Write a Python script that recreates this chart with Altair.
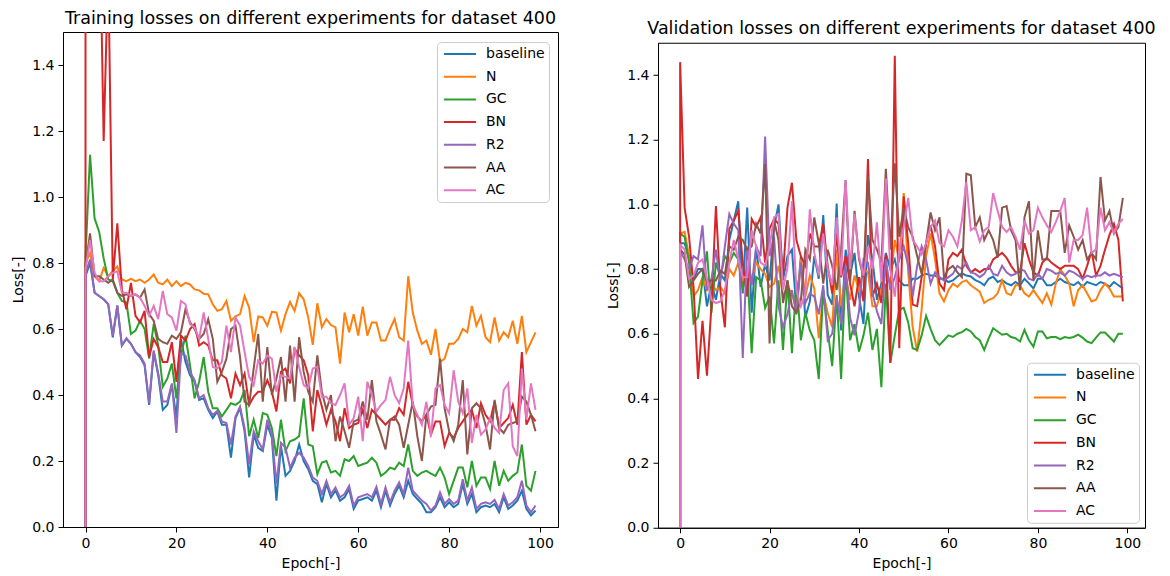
import altair as alt
import pandas as pd

SERIES = ["baseline", "N", "GC", "BN", "R2", "AA", "AC"]
COLORS = ["#1f77b4", "#ff7f0e", "#2ca02c", "#d62728", "#9467bd", "#8c564b", "#e377c2"]
EPOCHS = list(range(100))
START_LOSS = 0.0
X_TICKS = [0, 20, 40, 60, 80, 100]
Y_TICKS = [0.0, 0.2, 0.4, 0.6, 0.8, 1.0, 1.2, 1.4]

TRAIN_BASELINE = [
    0.76, 0.80, 0.71, 0.70, 0.69, 0.675, 0.575, 0.67, 0.55, 0.57,
    0.555, 0.53, 0.515, 0.49, 0.37, 0.53, 0.46, 0.355, 0.37, 0.43,
    0.33, 0.57, 0.50, 0.46, 0.44, 0.385, 0.39, 0.355, 0.33, 0.35,
    0.31, 0.31, 0.21, 0.33, 0.36, 0.29, 0.15, 0.28, 0.24, 0.23,
    0.31, 0.27, 0.08, 0.245, 0.155, 0.17, 0.20, 0.25, 0.20, 0.175,
    0.14, 0.13, 0.075, 0.13, 0.09, 0.11, 0.08, 0.09, 0.115, 0.055,
    0.08, 0.085, 0.09, 0.08, 0.11, 0.06, 0.11, 0.065, 0.10, 0.125,
    0.09, 0.14, 0.10, 0.085, 0.07, 0.045, 0.045, 0.06, 0.09, 0.06,
    0.075, 0.06, 0.07, 0.13, 0.07, 0.10, 0.045, 0.06, 0.065, 0.06,
    0.07, 0.045, 0.09, 0.055, 0.065, 0.08, 0.11, 0.055, 0.035, 0.05,
]
TRAIN_N = [
    0.80, 0.83, 0.76, 0.745, 0.785, 0.76, 0.775, 0.79, 0.75, 0.745,
    0.752, 0.745, 0.75, 0.74, 0.75, 0.765, 0.74, 0.735, 0.75, 0.73,
    0.745, 0.73, 0.74, 0.735, 0.72, 0.717, 0.707, 0.705, 0.675, 0.655,
    0.66, 0.685, 0.625, 0.638, 0.645, 0.70, 0.665, 0.56, 0.638, 0.635,
    0.61, 0.652, 0.65, 0.595, 0.645, 0.682, 0.655, 0.708, 0.69, 0.635,
    0.552, 0.678, 0.605, 0.63, 0.612, 0.605, 0.495, 0.65, 0.59, 0.645,
    0.58, 0.668, 0.58, 0.62, 0.62, 0.565, 0.565, 0.60, 0.63, 0.575,
    0.565, 0.76, 0.65, 0.595, 0.555, 0.565, 0.522, 0.60, 0.50, 0.51,
    0.555, 0.555, 0.57, 0.60, 0.59, 0.67, 0.61, 0.64, 0.575, 0.56,
    0.635, 0.565, 0.59, 0.575, 0.625, 0.555, 0.64, 0.53, 0.56, 0.59,
]
TRAIN_GC = [
    0.82, 1.128, 0.935, 0.895, 0.814, 0.75, 0.745, 0.71, 0.685, 0.68,
    0.585, 0.595, 0.625, 0.60, 0.51, 0.615, 0.55, 0.425, 0.45, 0.495,
    0.39, 0.52, 0.58, 0.49, 0.39, 0.44, 0.515, 0.41, 0.36, 0.36,
    0.335, 0.355, 0.375, 0.37, 0.38, 0.415, 0.275, 0.325, 0.27, 0.345,
    0.34, 0.30, 0.215, 0.325, 0.23, 0.26, 0.265, 0.275, 0.39, 0.25,
    0.245, 0.16, 0.195, 0.20, 0.165, 0.17, 0.155, 0.205, 0.20, 0.215,
    0.185, 0.19, 0.195, 0.21, 0.195, 0.155, 0.165, 0.18, 0.175, 0.195,
    0.185, 0.25, 0.17, 0.155, 0.165, 0.17, 0.162, 0.155, 0.18, 0.15,
    0.10, 0.14, 0.18, 0.18, 0.12, 0.20, 0.125, 0.15, 0.15, 0.115,
    0.20, 0.125, 0.17, 0.14, 0.155, 0.165, 0.25, 0.125, 0.11, 0.17,
]
TRAIN_BN = [
    4.0, 2.6, 2.2, 1.94, 1.17, 1.7, 0.75, 0.92, 0.72, 0.66,
    0.74, 0.64, 0.62, 0.655, 0.515, 0.57, 0.545, 0.50, 0.50, 0.56,
    0.44, 0.58, 0.565, 0.60, 0.615, 0.55, 0.56, 0.55, 0.505, 0.505,
    0.46, 0.45, 0.39, 0.465, 0.43, 0.465, 0.37, 0.395, 0.41, 0.41,
    0.445, 0.41, 0.35, 0.47, 0.48, 0.435, 0.54, 0.52, 0.505, 0.46,
    0.29, 0.415, 0.365, 0.31, 0.355, 0.32, 0.26, 0.36, 0.30, 0.31,
    0.315, 0.355, 0.30, 0.355, 0.34, 0.325, 0.31, 0.325, 0.325, 0.36,
    0.34, 0.44, 0.37, 0.335, 0.32, 0.34, 0.28, 0.32, 0.32, 0.245,
    0.285, 0.27, 0.30, 0.32, 0.34, 0.355, 0.30, 0.375, 0.34, 0.32,
    0.38, 0.30, 0.315, 0.33, 0.37, 0.31, 0.53, 0.31, 0.34, 0.32,
]
TRAIN_R2 = [
    0.77, 0.81, 0.71, 0.70, 0.69, 0.675, 0.58, 0.672, 0.55, 0.572,
    0.555, 0.53, 0.52, 0.495, 0.375, 0.535, 0.465, 0.38, 0.38, 0.435,
    0.285, 0.525, 0.52, 0.47, 0.445, 0.39, 0.40, 0.36, 0.34, 0.352,
    0.32, 0.315, 0.25, 0.335, 0.365, 0.30, 0.19, 0.29, 0.26, 0.235,
    0.325, 0.28, 0.13, 0.255, 0.24, 0.18, 0.21, 0.225, 0.21, 0.185,
    0.15, 0.14, 0.10, 0.14, 0.10, 0.12, 0.09, 0.10, 0.125, 0.065,
    0.09, 0.095, 0.10, 0.09, 0.122, 0.07, 0.12, 0.075, 0.11, 0.135,
    0.10, 0.18, 0.11, 0.095, 0.08, 0.07, 0.05, 0.065, 0.105, 0.07,
    0.085, 0.07, 0.08, 0.145, 0.08, 0.12, 0.055, 0.07, 0.075, 0.07,
    0.082, 0.055, 0.10, 0.065, 0.075, 0.09, 0.14, 0.065, 0.045, 0.065,
]
TRAIN_AA = [
    0.79, 0.89, 0.76, 0.76, 0.75, 0.74, 0.75, 0.71, 0.70, 0.705,
    0.70, 0.705, 0.695, 0.72, 0.645, 0.625, 0.57, 0.56, 0.555, 0.58,
    0.57, 0.59, 0.66, 0.62, 0.60, 0.57, 0.585, 0.63, 0.57, 0.44,
    0.47, 0.51, 0.60, 0.61, 0.515, 0.38, 0.37, 0.48, 0.585, 0.38,
    0.545, 0.40, 0.45, 0.515, 0.38, 0.55, 0.38, 0.575, 0.47, 0.41,
    0.38, 0.52, 0.41, 0.355, 0.40, 0.26, 0.335, 0.29, 0.24, 0.32,
    0.325, 0.38, 0.325, 0.445, 0.32, 0.28, 0.235, 0.325, 0.335, 0.31,
    0.24, 0.31, 0.38, 0.275, 0.20, 0.34, 0.365, 0.37, 0.51, 0.36,
    0.29, 0.26, 0.31, 0.445, 0.22, 0.36, 0.375, 0.36, 0.31, 0.235,
    0.385, 0.30, 0.285, 0.31, 0.315, 0.32, 0.395, 0.38, 0.34, 0.29,
]
TRAIN_AC = [
    0.78, 0.87, 0.77, 0.745, 0.745, 0.76, 0.77, 0.775, 0.71, 0.71,
    0.70, 0.705, 0.695, 0.67, 0.64, 0.67, 0.63, 0.715, 0.645, 0.635,
    0.595, 0.685, 0.675, 0.615, 0.605, 0.57, 0.65, 0.57, 0.485, 0.48,
    0.50, 0.61, 0.53, 0.635, 0.61, 0.53, 0.455, 0.43, 0.505, 0.495,
    0.52, 0.51, 0.41, 0.46, 0.455, 0.45, 0.545, 0.485, 0.43, 0.42,
    0.48, 0.485, 0.395, 0.395, 0.375, 0.37, 0.40, 0.435, 0.31, 0.33,
    0.395, 0.26, 0.44, 0.40, 0.35, 0.37, 0.385, 0.455, 0.40, 0.375,
    0.42, 0.565, 0.37, 0.34, 0.31, 0.38, 0.275, 0.42, 0.43, 0.37,
    0.345, 0.475, 0.38, 0.345, 0.42, 0.255, 0.34, 0.28, 0.295, 0.33,
    0.30, 0.285, 0.415, 0.435, 0.245, 0.215, 0.48, 0.325, 0.435, 0.355,
]

VAL_BASELINE = [
    0.88, 0.88, 0.83, 0.77, 0.80, 0.80, 0.685, 0.755, 0.705, 0.785,
    0.765, 0.89, 0.95, 1.01, 0.725, 0.99, 0.665, 0.87, 0.745, 0.815,
    0.765, 0.93, 1.00, 0.765, 0.84, 0.86, 0.675, 0.84, 0.65, 0.70,
    0.84, 0.77, 0.967, 0.72, 0.69, 1.003, 0.61, 0.86, 0.78, 0.85,
    0.715, 0.63, 0.905, 0.83, 0.705, 0.755, 0.85, 0.80, 0.83, 0.765,
    0.75, 0.75, 0.77, 0.77, 0.78, 0.785, 0.78, 0.78, 0.77, 0.77,
    0.76, 0.765, 0.777, 0.787, 0.78, 0.777, 0.766, 0.76, 0.75, 0.77,
    0.777, 0.76, 0.766, 0.756, 0.75, 0.76, 0.75, 0.77, 0.756, 0.74,
    0.77, 0.77, 0.75, 0.75, 0.76, 0.77, 0.76, 0.755, 0.75, 0.76,
    0.745, 0.76, 0.755, 0.75, 0.76, 0.755, 0.745, 0.76, 0.75, 0.74,
]
VAL_N = [
    0.91, 0.915, 0.84, 0.715, 0.735, 0.775, 0.735, 0.755, 0.735, 0.745,
    0.725, 0.80, 0.78, 0.82, 0.765, 0.785, 0.765, 0.82, 0.80, 0.785,
    0.745, 0.755, 0.81, 0.715, 0.745, 0.725, 0.675, 0.83, 0.715, 0.78,
    0.74, 0.586, 0.725, 0.665, 0.62, 0.86, 0.685, 0.78, 0.705, 0.78,
    0.735, 0.80, 0.79, 0.685, 0.685, 0.735, 0.80, 0.755, 0.89, 0.83,
    1.035, 0.79, 0.62, 0.545, 0.675, 0.84, 0.91, 0.83, 0.725, 0.70,
    0.735, 0.755, 0.745, 0.76, 0.765, 0.75, 0.74, 0.73, 0.695, 0.705,
    0.71, 0.725, 0.765, 0.725, 0.72, 0.75, 0.75, 0.725, 0.715, 0.735,
    0.715, 0.695, 0.725, 0.69, 0.755, 0.80, 0.78, 0.755, 0.685, 0.735,
    0.75, 0.725, 0.70, 0.705, 0.735, 0.755, 0.74, 0.715, 0.715, 0.715,
]
VAL_GC = [
    0.91, 0.90, 0.82, 0.633, 0.653, 0.765, 0.855, 0.665, 0.82, 0.775,
    0.84, 0.82, 0.85, 0.83, 0.735, 0.805, 0.54, 0.775, 0.765, 0.68,
    0.715, 0.57, 0.765, 0.55, 0.765, 0.54, 0.765, 0.58, 0.665, 0.61,
    0.58, 0.46, 0.735, 0.61, 0.50, 0.72, 0.46, 0.80, 0.58, 0.63,
    0.545, 0.595, 0.665, 0.55, 0.615, 0.435, 0.755, 0.51, 0.595, 0.675,
    0.68, 0.635, 0.555, 0.55, 0.595, 0.655, 0.615, 0.58, 0.565, 0.58,
    0.595, 0.59, 0.60, 0.605, 0.615, 0.607, 0.59, 0.58, 0.55, 0.586,
    0.617, 0.607, 0.597, 0.60, 0.59, 0.586, 0.576, 0.612, 0.58, 0.56,
    0.607, 0.607, 0.586, 0.59, 0.59, 0.583, 0.59, 0.587, 0.59, 0.597,
    0.588, 0.576, 0.571, 0.588, 0.604, 0.604, 0.59, 0.576, 0.60, 0.60,
]
VAL_BN = [
    1.44, 0.99, 0.90, 0.745, 0.46, 0.64, 0.47, 0.685, 0.995, 0.735,
    0.62, 0.925, 0.95, 0.98, 0.82, 0.715, 0.955, 0.93, 0.96, 0.82,
    0.925, 0.955, 0.94, 0.78, 0.99, 1.067, 0.89, 0.84, 0.81, 0.91,
    0.87, 0.87, 0.94, 0.81, 0.725, 0.91, 0.775, 0.84, 0.755, 0.685,
    0.775, 0.70, 1.14, 0.715, 0.755, 0.695, 0.845, 0.51, 1.46, 0.555,
    1.025, 0.88, 0.69, 0.685, 0.775, 0.88, 0.935, 0.87, 0.755, 0.735,
    0.83, 0.85, 0.84, 0.86, 0.81, 0.79, 0.80, 0.79, 0.80, 0.80,
    0.83, 0.84, 0.85, 0.835, 0.81, 0.79, 0.79, 0.88, 0.83, 0.79,
    0.78, 0.82, 0.835, 0.82, 0.81, 0.80, 0.81, 0.81, 0.81, 0.80,
    0.77, 0.81, 0.855, 0.78, 0.81, 0.86, 0.905, 0.94, 0.89, 0.70,
]
VAL_R2 = [
    0.855, 0.83, 0.80, 0.84, 0.83, 0.935, 0.735, 0.77, 0.86, 0.76,
    0.87, 0.97, 0.94, 0.92, 0.525, 0.87, 0.75, 0.87, 0.84, 1.21,
    0.84, 0.90, 0.685, 0.62, 0.66, 0.735, 0.66, 0.82, 0.695, 0.725,
    0.715, 0.66, 0.75, 0.58, 0.60, 0.715, 0.63, 0.81, 0.65, 0.595,
    0.67, 0.83, 0.82, 0.725, 0.67, 0.63, 0.83, 0.735, 0.775, 0.83,
    0.87, 0.81, 0.715, 0.81, 0.87, 0.83, 0.755, 0.79, 0.775, 0.765,
    0.775, 0.785, 0.81, 0.80, 0.82, 0.79, 0.785, 0.775, 0.785, 0.81,
    0.785, 0.78, 0.81, 0.79, 0.78, 0.785, 0.80, 0.795, 0.77, 0.765,
    0.785, 0.77, 0.80, 0.795, 0.785, 0.79, 0.78, 0.795, 0.79, 0.78,
    0.77, 0.78, 0.775, 0.78, 0.78, 0.79, 0.78, 0.785, 0.78, 0.775,
]
VAL_AA = [
    0.86, 0.845, 0.745, 0.765, 0.785, 0.80, 0.76, 0.765, 0.765, 0.795,
    0.785, 0.87, 0.86, 0.90, 0.89, 0.86, 0.87, 0.94, 0.91, 1.125,
    0.57, 0.95, 0.89, 0.695, 0.765, 0.685, 0.665, 0.705, 0.86, 0.83,
    0.96, 0.88, 0.755, 0.86, 0.81, 0.735, 0.86, 1.075, 0.755, 0.98,
    0.83, 0.775, 1.085, 0.89, 0.86, 0.82, 1.11, 0.86, 1.127, 0.90,
    0.99, 0.93, 0.90, 0.84, 0.785, 0.88, 0.975, 0.92, 0.96, 0.775,
    0.80, 0.81, 0.79, 0.775, 1.095, 1.09, 0.93, 0.96, 0.89, 0.92,
    0.89, 0.835, 0.99, 0.995, 0.92, 0.89, 0.735, 0.96, 1.01, 0.765,
    0.92, 0.83, 0.83, 0.98, 0.98, 0.98, 0.85, 0.935, 0.90, 0.86,
    0.89, 0.83, 0.85, 0.83, 1.085, 0.95, 0.98, 0.91, 0.93, 1.02,
]
VAL_AC = [
    0.875, 0.86, 0.77, 0.78, 0.82, 0.83, 0.77, 0.705, 0.695, 0.70,
    0.735, 0.82, 0.89, 0.83, 0.775, 0.775, 0.92, 0.87, 0.82, 0.81,
    0.87, 0.96, 0.97, 0.735, 0.805, 1.01, 0.735, 0.685, 0.725, 0.985,
    0.85, 0.78, 0.91, 0.80, 0.75, 0.96, 0.78, 1.075, 0.80, 0.97,
    0.84, 0.78, 0.87, 0.80, 0.945, 0.76, 1.08, 0.80, 0.715, 0.86,
    0.93, 1.02, 0.89, 0.87, 0.845, 0.88, 0.93, 0.95, 0.88, 0.87,
    0.92, 0.90, 0.87, 0.95, 1.07, 0.92, 0.93, 0.885, 0.92, 0.93,
    1.035, 0.98, 0.93, 0.915, 0.93, 0.90, 0.86, 0.95, 0.91, 0.92,
    0.99, 0.96, 0.935, 0.915, 0.945, 0.98, 1.02, 0.82, 0.89, 0.89,
    0.905, 0.99, 0.85, 0.86, 0.99, 0.92, 0.945, 0.91, 0.94, 0.955,
]

TRAIN = dict(zip(SERIES, [TRAIN_BASELINE, TRAIN_N, TRAIN_GC, TRAIN_BN, TRAIN_R2, TRAIN_AA, TRAIN_AC]))
VAL = dict(zip(SERIES, [VAL_BASELINE, VAL_N, VAL_GC, VAL_BN, VAL_R2, VAL_AA, VAL_AC]))

FONT = "DejaVu Sans"


def build_frame(series_values):
    rows = []
    for name in SERIES:
        rows.append({"series": name, "epoch": 0, "loss": START_LOSS, "idx": -1})
        for e, v in zip(EPOCHS, series_values[name]):
            rows.append({"series": name, "epoch": e, "loss": v, "idx": e})
    return pd.DataFrame(rows)


def lines_for(series_values, lx, ly):
    df = build_frame(series_values)
    x = alt.X("epoch:Q",
              scale=alt.Scale(domain=[-4.95, 103.95], nice=False, zero=False),
              axis=alt.Axis(values=X_TICKS, format="d", title="Epoch[-]"))
    y = alt.Y("loss:Q",
              scale=alt.Scale(domain=[0, 1.5], nice=False, zero=False),
              axis=alt.Axis(values=Y_TICKS, format=".1f", title="Loss[-]"))
    return alt.Chart(df).mark_line(strokeWidth=2, clip=True).encode(
        x=x, y=y,
        color=alt.Color("series:N", sort=SERIES,
                        scale=alt.Scale(domain=SERIES, range=COLORS),
                        legend=alt.Legend(title=None, orient="none", legendX=lx, legendY=ly,
                                          symbolType="M-2.3,0L2.3,0", symbolSize=196,
                                          symbolStrokeWidth=2, symbolOffset=11,
                                          labelOffset=18, labelFont=FONT, labelFontSize=14,
                                          labelColor="black", rowPadding=7.7, padding=4,
                                          fillColor="white", strokeColor="#cccccc",
                                          cornerRadius=4)),
        order=alt.Order("idx:Q"),
    )


def title_for(text):
    return alt.TitleParams(text, fontSize=17.5, font=FONT, fontWeight="normal",
                           color="black", offset=5, anchor="middle")


# invisible point under the left panel: extends its box so that the centred
# right panel sits a little lower, as in the reference
below = alt.Chart(pd.DataFrame({"k": [0]})).mark_point(opacity=0, size=1).encode(
    x=alt.value(10), y=alt.value(549))

left = alt.layer(lines_for(TRAIN, 374, 10), below).properties(
    width=495, height=495,
    title=title_for("Training losses on different experiments for dataset 400"))
right = lines_for(VAL, 369, 320).properties(
    width=487, height=485,
    title=title_for("Validation losses on different experiments for dataset 400"))

chart = alt.hconcat(left, right, spacing=47, center=True).resolve_scale(
    color="independent").resolve_legend(color="independent").properties(
    padding={"left": 11, "top": 9, "right": 5, "bottom": 0},
    background="white",
).configure_view(stroke="black", strokeWidth=1).configure_axis(
    domainColor="black", tickColor="black", labelColor="black", titleColor="black",
    labelFont=FONT, titleFont=FONT, labelFontSize=14, titleFontSize=14,
    titleFontWeight="normal", tickSize=5, labelPadding=4, titlePadding=6, grid=False,
)

chart.save("out.html", embed_options={"renderer": "svg", "actions": False})
